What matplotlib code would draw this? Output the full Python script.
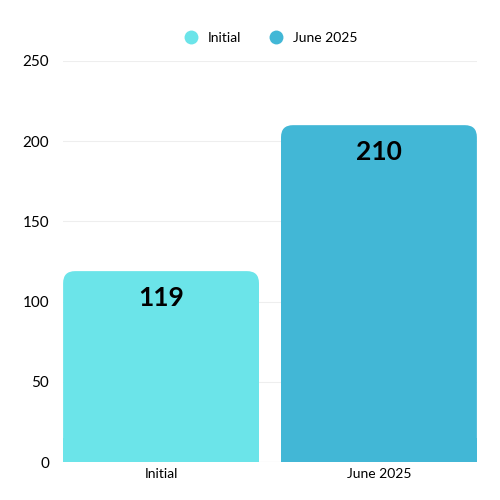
import matplotlib
matplotlib.use("Agg")
import matplotlib.pyplot as plt
from matplotlib.patches import FancyBboxPatch, Rectangle
from matplotlib.lines import Line2D

plt.rcParams['font.family'] = ['Lato', 'DejaVu Sans']

categories = ["Initial", "June 2025"]
values = [119, 210]
colors = ["#6BE4E9", "#42B7D6"]

fig = plt.figure(figsize=(5, 5), dpi=100)
ax = fig.add_axes([0.126, 0.076, 0.828, 0.802])

w = 0.899
rx = 0.055
ry = 7.5
for i, (v, c) in enumerate(zip(values, colors)):
    # rounded bar, then square off the bottom
    ax.add_patch(FancyBboxPatch((i - w / 2 + rx, rx * ry / rx * 0), w - 2 * rx, v - ry,
                                boxstyle=f"round,pad={rx}", mutation_aspect=ry / rx,
                                fc=c, ec="none", zorder=3))
    ax.add_patch(Rectangle((i - w / 2, 0), w, ry * 2, fc=c, ec="none", zorder=3))
    ax.text(i, v - 17, str(v), ha="center", va="center", fontsize=19,
            fontweight="bold", color="black", zorder=4)

ax.set_xlim(-0.45, 1.45)
ax.set_ylim(0, 250)
ax.set_xticks(range(len(categories)))
ax.set_xticklabels(categories, fontsize=10)
ax.set_yticks(range(0, 251, 50))
ax.tick_params(axis="y", labelsize=11, length=0, pad=10)
ax.tick_params(axis="x", length=0, pad=4)
ax.grid(axis="y", color="#EEEEEE", linewidth=0.8, zorder=0)
for s in ax.spines.values():
    s.set_visible(False)
ax.axhline(0, color="#DDDDDD", linewidth=0.8, zorder=2)

handles = [Line2D([], [], marker="o", linestyle="none", markersize=10,
                  markerfacecolor=c, markeredgecolor="none") for c in colors]
fig.legend(handles, categories, loc="center", bbox_to_anchor=(0.535, 0.925), ncol=2,
           frameon=False, fontsize=10, handletextpad=0.2, columnspacing=1.5)

fig.savefig("out.png", dpi=100)
